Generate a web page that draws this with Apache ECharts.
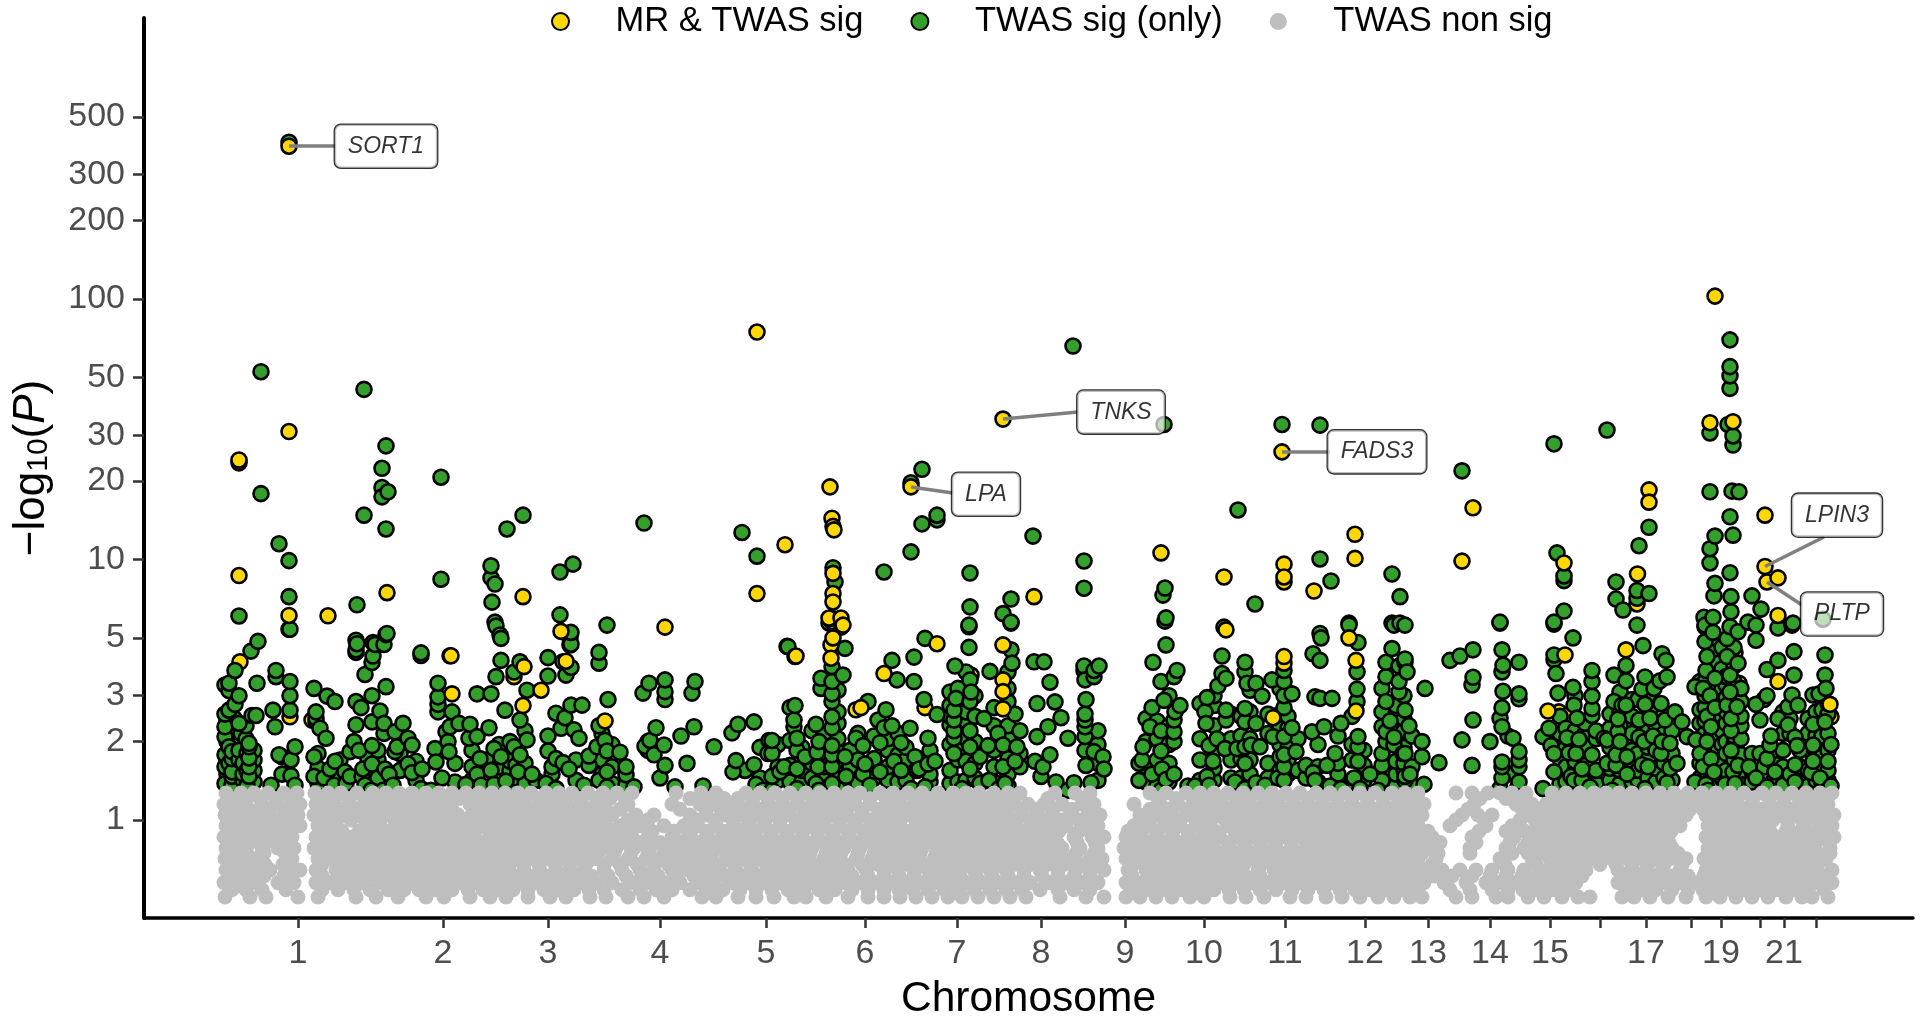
<!DOCTYPE html>
<html><head><meta charset="utf-8">
<script src="https://cdn.jsdelivr.net/npm/echarts@6/dist/echarts.min.js"></script>
<style>html,body{margin:0;padding:0;background:#fff}#c{width:1920px;height:1018px}</style>
</head><body><div id="c"></div>
<script>
const yTicks=[1,2,3,5,10,20,30,50,100,200,300,500];
const chromTickPos=[298,443,548,660,766,865,957,1041,1125,1204,1285,1365,1428,1490,1550,1600,1646,1691,1721,1760,1784,1816];
const chromTickLabels=['1','2','3','4','5','6','7','8','9','10','11','12','13','14','15','','17','','19','','21',''];

const grayTop=[226,241,254,268,284,297,315,328,341,357,373,386,399,412,426,439,452,466,479,492,505,518,531,546,559,572,588,603,617,632,676,701,716,746,760,775,790,806,820,834,848,860,880,893,908,922,938,953,966,979,994,1008,1020,1055,1075,1090,1150,1166,1186,1200,1214,1228,1243,1258,1272,1286,1300,1316,1330,1345,1360,1375,1392,1405,1418,1456,1472,1488,1500,1512,1526,1552,1566,1580,1594,1606,1619,1632,1646,1660,1674,1688,1702,1716,1730,1744,1762,1776,1792,1806,1820,1832];
const gray121=[232,247,260,276,290,322,335,349,365,379,393,405,419,432,445,459,473,486,499,512,525,539,552,566,580,596,610,625,690,708,724,738,753,768,783,798,813,827,841,855,870,886,900,915,930,945,960,973,987,1001,1014,1048,1082,1158,1176,1193,1207,1221,1236,1250,1265,1279,1293,1308,1323,1337,1352,1367,1383,1398,1412,1480,1506,1519,1559,1573,1587,1600,1613,1626,1639,1653,1667,1681,1695,1709,1723,1737,1753,1769,1784,1799,1813,1826];
const gray115=[224,236,262,276,292,300,316,334,350,364,378,392,406,420,434,446,470,484,498,512,525,540,552,566,582,600,628,672,700,712,730,752,768,782,797,812,826,840,854,870,890,900,914,928,942,958,972,986,1000,1014,1028,1044,1062,1082,1094,1134,1160,1178,1194,1208,1222,1236,1250,1264,1278,1294,1308,1322,1338,1352,1368,1384,1398,1412,1424,1474,1516,1532,1546,1560,1574,1588,1600,1612,1626,1640,1654,1668,1684,1696,1710,1724,1738,1752,1770,1784,1800,1814,1828];
const gray110=[230,249,269,284,322,342,357,371,385,399,413,427,440,452,477,491,505,519,533,547,560,574,590,606,620,680,706,721,737,745,760,775,790,805,819,833,847,862,880,895,907,921,935,950,965,979,993,1007,1021,1036,1053,1072,1088,1150,1168,1186,1201,1215,1229,1243,1257,1271,1286,1301,1315,1330,1345,1360,1376,1391,1405,1418,1468,1522,1538,1553,1567,1581,1594,1607,1620,1633,1647,1661,1676,1690,1703,1717,1731,1745,1761,1777,1792,1807,1821];
const gray105=[225,243,256,270,286,298,314,330,344,358,372,388,402,416,430,444,458,472,488,502,516,528,542,556,570,584,598,612,636,654,690,706,724,742,758,772,788,804,818,832,846,862,878,892,908,924,936,950,964,978,992,1006,1022,1038,1052,1070,1088,1100,1140,1156,1172,1188,1204,1218,1232,1246,1262,1276,1290,1304,1320,1334,1348,1364,1378,1394,1408,1422,1462,1478,1492,1528,1542,1556,1570,1584,1598,1616,1630,1644,1658,1672,1686,1706,1720,1734,1748,1766,1780,1794,1810,1824,1834];
const gray100=[232,248,262,278,292,322,337,351,365,380,395,409,423,437,451,465,480,495,509,522,535,549,563,577,591,605,628,648,697,715,733,750,765,780,796,811,825,839,854,870,885,900,916,930,943,957,971,985,999,1013,1030,1045,1061,1079,1094,1146,1164,1180,1196,1211,1225,1239,1254,1269,1283,1297,1312,1327,1341,1356,1371,1386,1401,1415,1456,1484,1520,1535,1549,1563,1577,1591,1607,1623,1637,1651,1665,1679,1713,1727,1741,1757,1773,1787,1802,1817,1829];
const gray095=[226,238,252,272,290,300,318,332,366,380,396,410,424,440,454,468,482,496,510,522,538,552,566,578,592,606,620,640,664,684,698,716,734,748,764,780,796,810,824,840,856,872,886,900,916,930,946,960,974,988,1002,1016,1032,1048,1066,1084,1098,1134,1150,1166,1180,1196,1210,1228,1242,1256,1272,1288,1302,1318,1330,1346,1360,1376,1390,1404,1418,1450,1486,1512,1538,1552,1566,1580,1594,1610,1624,1638,1652,1666,1680,1708,1722,1736,1752,1768,1788,1804,1820,1832];
const gray090=[232,246,265,282,325,342,359,373,388,403,417,432,447,461,475,489,503,516,530,545,559,572,585,599,613,630,652,674,691,708,725,741,756,772,788,803,817,832,848,864,879,893,908,923,938,953,967,981,995,1009,1025,1042,1059,1079,1095,1128,1142,1158,1173,1188,1203,1215,1235,1249,1264,1280,1295,1310,1324,1338,1352,1367,1381,1396,1411,1428,1479,1506,1525,1543,1557,1571,1585,1600,1615,1629,1643,1657,1671,1713,1727,1741,1755,1770,1786,1801,1816,1829];
const gray086=[224,240,258,274,292,316,334,352,368,384,400,414,428,442,458,474,490,504,518,532,546,560,574,590,604,618,632,648,672,688,706,722,738,754,770,786,802,818,834,850,866,880,896,912,926,940,956,970,986,1002,1018,1036,1052,1074,1092,1104,1126,1140,1156,1172,1188,1202,1220,1236,1252,1268,1284,1298,1314,1328,1342,1358,1372,1388,1402,1416,1432,1472,1514,1532,1548,1562,1576,1590,1606,1620,1634,1648,1662,1706,1720,1734,1748,1762,1778,1794,1808,1824,1834];
const gray082=[232,250,266,284,322,340,357,373,389,405,420,435,449,465,482,497,511,525,539,553,567,582,597,611,625,641,660,680,697,714,730,745,762,778,794,807,823,839,855,871,888,904,919,933,948,963,977,993,1010,1024,1041,1057,1077,1095,1132,1148,1164,1180,1195,1210,1228,1244,1260,1276,1291,1306,1321,1335,1350,1365,1380,1395,1409,1424,1440,1476,1510,1528,1544,1559,1573,1588,1603,1613,1627,1641,1655,1669,1713,1727,1741,1755,1770,1786,1801,1816,1829];
const gray078=[226,242,262,278,294,314,330,346,362,378,394,410,426,442,456,472,486,500,514,528,544,558,572,586,602,616,634,650,668,684,702,718,736,750,766,782,798,812,828,844,860,876,892,908,922,938,954,968,984,1000,1016,1030,1046,1062,1080,1098,1124,1138,1154,1168,1184,1198,1214,1230,1246,1262,1276,1292,1308,1324,1340,1354,1368,1384,1398,1414,1430,1470,1506,1524,1540,1556,1570,1586,1600,1618,1632,1646,1660,1672,1708,1722,1736,1750,1766,1782,1798,1814,1830];
const gray074=[232,247,264,285,322,340,354,372,387,403,419,434,447,462,478,493,507,521,537,551,565,581,598,614,631,648,664,680,696,712,731,747,763,779,795,810,826,841,858,874,889,905,920,936,951,965,980,996,1013,1027,1043,1059,1076,1094,1131,1146,1161,1176,1191,1206,1222,1238,1254,1269,1284,1300,1316,1332,1347,1361,1376,1392,1406,1422,1438,1470,1512,1528,1544,1559,1575,1590,1606,1622,1636,1650,1664,1678,1712,1726,1740,1755,1770,1786,1802,1818,1830];
const gray071=[225,238,256,292,318,332,348,366,382,396,412,428,440,454,470,486,500,516,530,548,562,576,594,612,628,646,660,676,692,708,726,744,760,776,792,808,824,838,856,872,886,900,918,934,948,962,976,992,1006,1022,1038,1056,1072,1090,1102,1126,1142,1158,1172,1188,1204,1218,1234,1250,1266,1282,1296,1312,1328,1342,1358,1372,1388,1404,1418,1436,1500,1532,1550,1564,1580,1594,1612,1628,1642,1656,1670,1686,1704,1718,1732,1746,1760,1776,1792,1808,1826];
const gray067=[232,248,265,283,322,340,358,374,390,406,422,436,450,464,480,495,510,524,539,555,570,586,604,620,637,654,668,684,700,716,734,750,766,782,798,814,830,845,862,878,893,908,924,940,954,968,982,998,1014,1030,1047,1064,1081,1098,1133,1150,1166,1181,1197,1212,1228,1244,1261,1277,1292,1308,1324,1340,1354,1369,1384,1399,1413,1432,1505,1536,1552,1568,1584,1600,1616,1632,1648,1664,1682,1712,1726,1740,1754,1770,1786,1802,1818];
const gray064=[226,242,258,270,290,300,316,336,352,368,384,400,416,432,448,462,476,492,508,524,540,556,570,584,604,622,640,654,672,688,704,720,736,752,770,786,802,818,832,848,866,884,898,914,928,942,958,974,990,1006,1024,1040,1058,1076,1090,1104,1128,1146,1162,1176,1192,1208,1224,1240,1258,1274,1288,1304,1320,1336,1350,1366,1380,1396,1410,1426,1442,1460,1476,1492,1508,1524,1540,1556,1572,1586,1618,1632,1646,1662,1680,1706,1720,1734,1748,1764,1780,1796,1812,1832];
const gray061=[232,248,264,284,322,340,357,374,390,406,421,437,453,468,484,499,514,530,546,562,576,591,608,626,642,658,676,694,710,726,742,758,774,790,806,820,836,852,868,884,899,914,930,946,960,976,992,1008,1024,1042,1058,1074,1090,1132,1150,1166,1182,1198,1214,1230,1245,1260,1276,1292,1308,1324,1340,1356,1370,1386,1402,1417,1434,1452,1472,1490,1506,1522,1537,1552,1566,1582,1624,1640,1656,1672,1688,1704,1718,1732,1746,1760,1776,1792,1808,1824];
const gray057=[224,240,254,278,294,316,330,346,362,380,396,412,426,444,460,476,490,506,520,536,552,566,582,596,612,632,648,664,680,698,714,732,748,764,780,796,812,826,844,860,876,892,906,920,936,952,966,982,998,1014,1030,1050,1066,1082,1098,1126,1142,1158,1174,1190,1206,1222,1236,1252,1268,1284,1300,1316,1332,1348,1362,1378,1394,1410,1424,1444,1466,1486,1500,1516,1530,1544,1560,1576,1618,1634,1648,1664,1680,1696,1710,1724,1738,1752,1768,1784,1800,1816,1832];
const gray054=[232,246,262,286,322,338,354,370,388,404,419,435,452,468,483,498,513,528,544,559,574,589,604,622,640,656,672,690,706,723,740,756,772,788,804,819,835,852,868,884,899,913,928,944,959,974,990,1006,1022,1040,1058,1074,1090,1133,1150,1166,1182,1198,1214,1229,1244,1260,1276,1292,1308,1324,1340,1355,1370,1386,1402,1417,1450,1470,1492,1508,1523,1537,1552,1568,1626,1642,1656,1672,1688,1703,1717,1731,1745,1760,1776,1792,1808,1824];
const gray051=[225,250,266,298,318,356,376,398,426,444,470,490,506,528,550,566,590,606,628,644,664,702,716,738,756,774,794,806,826,848,868,884,900,916,932,948,962,978,994,1010,1026,1060,1086,1104,1126,1140,1156,1172,1190,1204,1230,1246,1264,1290,1306,1326,1342,1360,1378,1394,1410,1422,1456,1472,1496,1508,1528,1544,1562,1578,1590,1622,1634,1650,1668,1686,1706,1720,1736,1752,1768,1786,1802,1812,1828];

const greenLowA=[[227,1.5,1.72,2.0,2.18,2.42],[234,1.42,1.55,1.97,2.18,2.46],[241,1.36,1.6,2.0,2.15],[246,1.4,1.75,2.05,2.3],[254,1.4,1.55,1.7,1.85],[282,1.5,1.75],[318,1.38,1.58,1.8],[340,1.45,1.7],[368,1.4,1.55,1.72],[378,1.45,1.7,1.85],[400,1.55,1.8,2.2],[416,1.42,1.68],[455,1.4,1.65],[472,1.42,1.6,1.85],[486,1.45,1.7],[499,1.42,1.6,1.95],[510,1.38,1.55,1.68,2.0],[516,1.45,1.62,1.9],[525,1.38,1.65,2.2],[536,1.42],[552,1.5,1.6],[576,1.42,1.7],[602,1.5,1.7,2.15],[612,1.38,1.6,1.95],[648,1.85,2.0],[660,1.45]];
const greenLowB=[[745,1.55],[760,1.45,1.9],[778,1.42,1.6,1.95],[790,1.4,1.62],[802,1.4,1.55,1.9],[812,1.45,1.65,2.2],[824,1.42,1.6,1.9,2.15],[838,1.36,1.5,1.7,1.85,2.05,2.35,2.6,3.15],[850,1.42,1.6,1.85],[858,1.38,1.7,2.15],[874,1.45,1.72,2.1],[888,1.42,1.6,1.85,2.05],[898,1.4,1.78,2.15],[906,1.42,1.7,1.9],[930,1.4,1.5,1.85],[950,1.38,1.55,1.95,2.32,2.5,2.75,3.1],[958,1.4,1.7,1.85,2.15,2.35,2.6,3.2],[966,1.42,1.68,2.05,2.4,2.6,3.7],[975,1.45,1.65,2.0,2.5,3.0],[980,1.38,1.75],[994,1.4,1.6,1.85,2.3,2.7],[1008,1.35,1.5,1.72,2.05,2.3,2.85,3.2,3.7],[1020,1.6,1.8,2.2]];
const greenLowC=[[1098,1.42,1.65,1.95,2.2],[1146,1.4,1.6,2.0,2.45],[1157,1.35,1.7,2.05,2.4],[1169,1.4,1.65,1.95,2.3,3.0],[1200,1.42,1.7,2.05,2.8],[1214,1.42,1.58,1.85,2.3,2.75,3.0],[1231,1.45,1.7,2.05,2.55],[1241,1.45,1.72,2.1,2.5],[1250,1.5,1.7,2.05,2.6,3.15],[1268,1.45,1.65,2.15,2.55],[1280,1.55,1.75,1.95,2.3,2.55,3.2],[1288,1.5,1.7,1.9,2.25,2.5],[1298,1.55,2.05],[1306,1.45,1.62],[1318,1.4,1.6,1.95],[1338,1.5,1.65,2.1],[1352,1.4,1.7,1.95,2.5],[1364,1.42,1.62,1.85],[1382,1.42,1.62,1.8,2.28,2.6,3.2],[1396,1.35,1.5,1.68,2.25,2.55,2.75],[1404,1.55,1.65,1.9,2.2,2.45,3.0],[1412,1.36,1.6,2.1],[1508,1.5,2.1]];
const greenLowD=[[1560,1.38,1.55,1.72,2.15,2.5],[1566,1.4,1.6,1.9,2.25],[1575,1.38,1.55,1.68,2.2,3.0],[1585,1.4,1.62,1.9,2.15,2.35],[1596,1.38,1.55,2.05,2.2],[1610,1.42,1.58,1.9,2.25,2.55],[1620,1.38,1.55,1.7,2.3,2.6,3.1],[1632,1.4,1.55,1.65,1.85,2.15,2.5,2.9],[1638,1.42,1.55,1.8,2.9],[1648,1.45,1.7,1.9,2.2,2.6,3.0],[1656,1.4,1.58,1.85,2.3,2.65],[1664,1.45,1.65,2.15,2.55],[1672,1.42,1.8,2.2],[1700,1.45,1.65,2.0,2.35,2.65,3.4],[1705,1.55,1.85,2.15,2.4,2.7,3.0,3.4],[1712,1.4,1.5,1.65,1.9,2.15,2.45,3.2,3.7,4.4,5.0],[1718,1.38,1.6,1.85,2.1,2.3,2.55,2.9,3.3,4.0],[1722,1.45,1.7,1.95,2.2,2.5,2.8,3.2,3.8,4.6],[1726,1.35,1.55,1.8,2.0,2.35,2.6,2.95,3.3,3.55],[1734,1.45,1.7,1.95,2.1,2.35,2.6,2.9,3.4,3.9,4.6],[1741,1.42,1.55,1.78,2.05,2.3,2.5,2.85,3.2],[1752,1.4,1.55,1.8],[1764,1.45,1.6,2.9],[1774,1.42,1.65,1.85],[1783,1.36,1.6,1.85,2.15,2.6],[1790,1.5,2.15,2.45],[1800,1.4,1.6,1.85],[1808,1.35,1.55,2.15,2.45],[1816,1.42,1.6,1.85,2.1,2.6],[1822,1.38,1.55,1.75,2.1,2.65],[1828,1.42,1.55,1.85,2.15,2.55,2.8]];
const greenChr1=[[225,1.38,1.6,1.78,2.09,2.28,2.55,3.3],[229,1.65,1.91,2.64,3.14,3.35],[232,1.36,1.47,1.53,1.72,1.83],[235,2.78,3.75],[239,1.7,1.85,2.35,3.0,6.07,23.5],[243,1.42,1.5,1.66],[247,1.35,1.55,1.8],[249,1.47,1.6,1.73,1.91,1.97],[251,4.45],[252,2.52],[256,2.52],[257,3.35],[258,4.85],[261,52.6,17.9],[271,1.36],[273,2.64],[275,2.28],[276,3.55,3.75],[279,1.78,11.5],[289,400,9.9,7.2,5.4],[290,2.64,3.0,3.4,5.4],[291,1.48,1.7],[295,1.36,1.91],[314,1.47,1.75,3.2],[316,2.38,2.46,2.6],[320,2.25],[324,1.45],[326,2.06],[327,2.99],[330,1.57],[334,1.36],[335,1.68,2.85],[345,1.53],[346,1.38],[350,1.47,1.83],[354,2.0],[356,2.32,2.85,4.4,4.9,4.5],[357,4.75,6.7],[359,1.85],[361,2.7],[362,1.47],[363,1.57],[364,14.8,45],[365,1.36,3.62],[371,1.3],[372,1.64,1.93,2.38,3.0,4.02],[373,4.8,4.26],[375,4.72],[380,2.62],[382,18.9,17.4,22.4],[383,1.3],[384,2.15,2.35,4.72],[385,1.57],[386,3.25,5.15,13.1,27.3],[387,5.2],[388,18.2],[389,1.5],[393,1.36],[395,1.83,2.18],[397,1.91],[403,2.35],[408,1.64,2.06],[412,1.52,1.94],[421,1.32,4.28,4.38],[422,1.57]];
const greenChr2=[[431,1.3],[435,1.88],[436,1.67],[438,2.6,2.78,2.97,3.35],[441,8.4,20.7],[442,1.45],[446,2.18],[448,2.0],[449,1.83],[450,2.28],[452,2.6],[459,2.35],[466,1.37],[469,2.06],[470,2.33],[477,1.5,2.09,3.05],[480,1.72],[481,1.36],[489,2.26],[491,1.55,3.05,8.5,9.46],[492,6.86],[494,1.37,1.88],[495,5.75,8.05],[496,3.55,5.55],[500,5.13],[501,1.75,4.1,4.98],[505,2.64],[506,1.41],[507,13.1],[514,1.91,3.7],[518,1.53],[520,1.78,2.42,4.05],[523,14.8],[527,2.03,3.15],[532,1.5]];
const greenChr3=[[546,1.38],[548,1.84,2.1,3.57,4.2],[556,1.32,1.72,2.57],[560,6.13,8.95],[561,2.25],[563,1.66],[565,2.47],[566,3.6],[569,1.57],[570,4.7,5.0],[571,2.76,3.85,4.73,5.25],[573,9.6],[574,2.22],[579,2.06],[582,2.76],[584,1.36],[589,1.62,1.76],[597,1.91],[599,1.42,2.3,4.0,4.4],[605,2.02],[607,1.34,1.53,1.84,5.6],[608,2.9],[620,1.82],[626,1.36,1.49,1.6],[634,1.34]];
const greenChr4=[[643,3.07],[644,13.8],[645,1.92],[649,3.35],[650,2.02],[654,1.78],[656,2.26],[664,1.94],[665,1.62,2.9,3.11,3.45],[675,1.34],[681,2.1],[687,1.65],[692,3.07],[694,2.28],[695,3.4],[703,1.35],[714,1.91]];
const greenChr5=[[732,2.16],[733,1.53],[736,1.69],[738,2.33],[742,12.7],[754,1.63,2.38],[756,1.37],[757,10.3],[763,1.3],[768,1.8],[769,2.02],[772,1.3,1.47,1.8,2.02],[780,1.53],[784,1.6],[787,4.64],[788,4.63],[790,2.02,2.7],[794,2.28,2.42],[795,2.75],[797,1.32,1.57,1.85,2.06],[805,1.75],[816,1.38,2.33],[817,1.82],[818,1.6],[819,1.3,2.0],[821,3.2,3.5]];
const greenChr6=[[829,5.7],[832,1.38,1.6,1.78,1.93,2.26,2.49,2.85,3.05,3.4,3.88,5.77,5.95],[833,9.3],[835,8.2],[843,3.6],[845,1.75,4.56],[846,1.47],[856,2.06],[863,1.5,1.93],[865,1.64],[868,2.85],[870,1.36],[878,2.42],[880,1.53,1.98],[884,2.26,8.96],[886,2.65],[892,2.3,4.1],[894,1.68],[897,3.45],[901,1.55,1.98],[910,2.25],[911,1.32,10.7,19.7],[914,3.4,4.22],[915,1.75],[917,1.55],[919,1.57],[922,13.7,22.2],[924,2.9],[925,1.34,4.98],[928,1.64,2.06],[935,1.68],[937,2.54,14.2,14.8]];
const greenChr7=[[954,1.8,2.06,2.2,2.42,2.64],[955,3.9],[956,2.93],[962,1.32],[969,4.6,5.52,5.6],[970,1.57,1.91,2.2,2.85,3.45,6.58,8.87],[971,3.1],[984,2.45],[988,1.93],[989,1.42],[990,3.72],[998,2.15],[999,1.32],[1003,1.6,1.94,6.2],[1005,1.38],[1011,4.5,5.7,5.75,7.05],[1012,4.0],[1015,1.68,2.55],[1017,1.91]];
const greenChr8=[[1033,12.3],[1034,4.05],[1035,1.68],[1037,2.09,2.8],[1041,1.47],[1043,1.6],[1044,4.05],[1048,2.28],[1050,1.78,3.38],[1055,2.84],[1056,1.4],[1061,2.47],[1068,1.3,2.06],[1073,66],[1074,1.39],[1084,3.75,3.9,7.76,9.87],[1085,1.85,2.09,2.28,2.42,2.55,3.45],[1086,1.62,2.9],[1091,1.39],[1094,1.83,3.55,3.75],[1099,3.9],[1103,1.75],[1104,1.57]];
const greenChr9=[[1139,1.42,1.65],[1142,1.7],[1143,1.91],[1150,2.28],[1152,1.5,2.7],[1153,4.03],[1161,1.3,1.84,2.2,3.4],[1162,1.57],[1163,7.3],[1164,2.88,33],[1165,5.8,7.77],[1166,1.43,4.7,5.97],[1174,1.5,2.0,2.18,2.42,3.55],[1175,2.6],[1177,3.75],[1180,2.75]];
const greenChr10=[[1188,1.35],[1195,1.35],[1205,2.6],[1206,2.35],[1207,1.47,2.95],[1209,1.36,1.93],[1213,1.68],[1217,2.05],[1218,3.27],[1222,3.65,4.26],[1224,5.5],[1225,1.88],[1226,2.42,2.64,3.5],[1235,1.4],[1237,1.88],[1238,15.5],[1245,1.32,1.65,1.91,2.38,2.68,3.7,4.03],[1247,3.35],[1251,1.94],[1255,6.75],[1256,1.39,2.35,3.35],[1260,1.91],[1262,2.99],[1265,1.36],[1272,3.45],[1273,2.09]];
const greenChr11=[[1278,1.45],[1282,33],[1284,1.42,1.6,1.78,2.09,2.7,3.0,3.4,3.75],[1292,2.26,3.05],[1296,1.83],[1312,2.18],[1313,1.52,4.35],[1315,1.42,2.97],[1320,2.93,4.1,5.2,10.05,32.8],[1321,5.0],[1324,2.28],[1327,1.62],[1330,1.35],[1331,8.27],[1332,2.93],[1335,1.8],[1341,1.32,2.35],[1349,5.7,5.6],[1354,1.45],[1357,2.85,3.18,3.7],[1358,1.68,1.91,2.09,4.8],[1360,1.32]];
const greenChr12=[[1370,1.5],[1378,1.3],[1386,2.0,2.18,2.85,3.55,4.03],[1390,2.4],[1392,4.55,5.7,8.8],[1394,1.94,2.08,5.6],[1399,3.1,3.4,3.9],[1400,5.7,7.2],[1403,1.8],[1405,1.42,1.47,1.8,2.64,4.03,4.15,5.6],[1407,3.7],[1409,2.3],[1410,1.5],[1422,1.75,2.0],[1424,1.37],[1425,3.2],[1439,1.66]];
const greenChr13=[[1450,4.1],[1460,4.26],[1462,2.03,21.9],[1472,1.62,3.3],[1473,2.42,3.53,4.5],[1490,2.0],[1500,1.32,2.46,5.7,5.75],[1502,1.45,1.6,1.67,2.28,2.7,3.7,4.5],[1503,3.12,3.93],[1513,2.06],[1518,1.34],[1519,1.4,1.6,1.7,1.83,2.92,3.05,4.03]];
const greenChr15=[[1543,1.32,2.09],[1549,2.25],[1551,1.93],[1554,1.53,1.8,4.12,4.3,5.65,5.75,27.8],[1556,3.65],[1557,10.6],[1558,3.07],[1564,6.34,8.3,8.65],[1567,2.07],[1569,1.81],[1571,1.47],[1573,3.23,5.0],[1574,1.42,2.76],[1576,1.8],[1577,2.46],[1579,2.04],[1582,1.42,1.57],[1590,1.34],[1592,1.78,2.52,2.68,2.99,3.4,3.75]];
const greenChr16=[[1604,2.06],[1607,1.65,2.03,31.4],[1612,1.3],[1614,2.85,3.6],[1616,1.62,1.78,7.05,8.2],[1618,2.18,2.44],[1620,2.0],[1622,2.76],[1623,6.4],[1626,2.76,3.42,3.92],[1627,1.5,1.75],[1637,5.6,7.1,7.6],[1639,2.08,2.42,11.3]];
const greenChr17=[[1642,1.63,3.18],[1643,4.67],[1644,2.0],[1645,1.32,2.78,3.54],[1648,1.6],[1649,7.4,13.3],[1650,2.46],[1653,2.1],[1654,3.2],[1660,3.42],[1661,1.8,2.8],[1662,2.0,4.35],[1665,2.42],[1666,4.1],[1667,1.39,3.54],[1670,1.58,1.97],[1675,2.6],[1677,1.65],[1682,2.38]];
const greenChr19=[[1687,2.09],[1695,1.4,3.25],[1696,2.03],[1700,1.8],[1703,1.6,3.2],[1704,6.0],[1705,4.84,5.52,5.6],[1706,1.37,3.75],[1707,2.0,2.5,4.24],[1708,1.3],[1710,3.0,9.7,11,18.2,30.6],[1711,1.72,2.28],[1713,5.25,6.0],[1714,1.53,7.25],[1715,2.7,3.5,8.1,12.3],[1725,1.37],[1727,2.76,4.24,4.97],[1728,33],[1730,3.1,3.6,5.52,8.9,14.6,45.4,50.7,55,69.7],[1731,2.2,2.45,1.85,6.3,7.2],[1732,18.3],[1733,1.53,12.4,27.5,29.8],[1735,1.38],[1737,2.72],[1738,1.62,4.0,5.28],[1739,18.2],[1748,5.75],[1749,1.6],[1752,7.25],[1756,1.45,2.78,4.9,5.6],[1760,1.8,2.42],[1761,6.45]];
const greenChr21=[[1767,1.34,1.72,3.0,3.78],[1770,1.94],[1771,2.1],[1775,1.53],[1778,2.45,4.1,5.46],[1788,2.32,2.72],[1792,3.02,5.6],[1793,5.7],[1794,3.6,4.43],[1795,1.4,1.63,2.08],[1797,1.93],[1798,2.76],[1811,1.52],[1813,1.68,1.94,2.33,3.02],[1819,3.05],[1820,1.45],[1823,5.9],[1825,2.38,3.6,4.3],[1826,3.2],[1828,1.68],[1831,1.35,1.95]];

const yellowUnder=[[240,4.05],[290,2.49],[312,2.42],[514,3.55],[841,5.5],[833,3.6],[856,2.65],[925,2.7],[971,3.6],[1559,2.6],[1567,2.52],[1612,2.58],[1284,8.2],[1637,6.75],[1735,4.4],[1739,3.35],[1831,2.49]];
const yellowTop=[[239,24.1],[239,8.68],[289,386],[289,31],[289,6.1],[328,6.08],[387,7.46],[450,4.27],[452,3.05],[451,4.27],[523,7.2],[524,3.88],[523,2.75],[541,3.15],[561,5.3],[563,4.05],[566,4.07],[605,2.4],[665,5.5],[757,74.7],[757,7.4],[785,11.4],[795,4.24],[796,4.26],[831,4.7],[831,4.18],[833,5.0],[830,19],[832,14.4],[833,13.4],[834,13],[833,8.85],[833,7.4],[833,6.87],[829,5.96],[841,5.96],[843,5.6],[861,2.7],[884,3.65],[911,19],[937,4.75],[1003,34.6],[1003,4.7],[1003,3.45],[1003,3.11],[1003,2.67],[1034,7.2],[1161,10.6],[1224,8.57],[1226,5.37],[1273,2.47],[1282,25.9],[1284,9.6],[1284,8.57],[1284,4.0],[1284,4.24],[1314,7.57],[1349,5.0],[1355,12.5],[1355,10.1],[1356,4.1],[1356,2.62],[1462,9.86],[1473,15.8],[1548,2.62],[1564,9.7],[1565,4.3],[1626,4.5],[1637.5,8.8],[1649,18.5],[1649,16.6],[1710,33.5],[1715,102.6],[1733,33.8],[1765,14.8],[1765,9.4],[1767,8.2],[1778,8.5],[1778,6.1],[1778,3.4],[1830,2.78]];

const geneNames=['SORT1','TNKS','FADS3','LPA','LPIN3','PLTP'];
const genePos=[289,1003,1282,911,1765,1767];
const geneValue=[386,34.6,25.9,19,9.4,8.2];
const boxPos=[386,1121,1377,986,1837,1842];
const boxValue=[386,36.8,25.9,17.8,14.8,6.18];
const linkPos=[336,1078,1330,953,1824,1802];
const linkValue=[386,36.8,25.9,18,12.2,6.69];

const expand=g=>g.flatMap(c=>c.slice(1).map(v=>[c[0],v]));
const greenData=expand([...greenLowA,...greenLowB,...greenLowC,...greenLowD,...greenChr1,...greenChr2,...greenChr3,...greenChr4,...greenChr5,...greenChr6,...greenChr7,...greenChr8,...greenChr9,...greenChr10,...greenChr11,...greenChr12,...greenChr13,...greenChr15,...greenChr16,...greenChr17,...greenChr19,...greenChr21]);
const grayRows=[[1.27,grayTop],[1.21,gray121],[1.15,gray115],[1.1,gray110],[1.045,gray105],[1.0,gray100],[0.95,gray095],[0.905,gray090],[0.86,gray086],[0.82,gray082],[0.78,gray078],[0.745,gray074],[0.71,gray071],[0.675,gray067],[0.643,gray064],[0.61,gray061],[0.575,gray057],[0.54,gray054],[0.506,gray051]];
const grayData=grayRows.flatMap(([v,xs])=>xs.map(x=>[x,v]));

const YEL='#FFD700',GRN='#33A02C',GRY='#BEBEBE';
const dot=(color,z)=>({type:'scatter',symbol:'circle',symbolSize:15,silent:true,progressive:0,z,itemStyle:{color,borderColor:'#000',borderWidth:2.6,opacity:1}});
const chart=echarts.init(document.getElementById('c'),null,{renderer:'canvas'});
chart.setOption({
 animation:false,backgroundColor:'#fff',
 textStyle:{fontFamily:'"Liberation Sans",Arial,sans-serif'},
 grid:{left:144,right:7,top:18,bottom:100,containLabel:false,outerBoundsMode:'none'},
 legend:{data:['MR & TWAS sig','TWAS sig (only)','TWAS non sig'],left:546,top:-1,itemWidth:100,itemHeight:17,itemGap:47,selectedMode:false,
  textStyle:{fontSize:34.5,color:'#000',fontFamily:'"Liberation Sans"'}},
 xAxis:{type:'value',min:144,max:1913,splitLine:{show:false},
  name:'Chromosome',nameLocation:'middle',nameGap:60,nameTextStyle:{fontSize:42.5,color:'#000'},
  axisLine:{onZero:false,lineStyle:{color:'#000',width:3.5}},
  axisTick:{customValues:chromTickPos,length:10,lineStyle:{color:'#333',width:2.5}},
  axisLabel:{customValues:chromTickPos,margin:19,fontSize:34,color:'#4D4D4D',formatter:v=>chromTickLabels[chromTickPos.indexOf(v)]||''}},
 yAxis:{type:'log',logBase:10,min:0.4205,max:1199,splitLine:{show:false},minorTick:{show:false},
  name:'{n|−log}{s|10}{n|(}{i|P}{n|)}',nameLocation:'middle',nameRotate:90,nameGap:90,
  nameTextStyle:{rich:{n:{fontSize:44,color:'#000',fontFamily:'"Liberation Sans"'},i:{fontSize:44,fontStyle:'italic',color:'#000',fontFamily:'"Liberation Sans"'},s:{fontSize:30,color:'#000',padding:[14,0,0,0],fontFamily:'"Liberation Sans"'}}},
  axisLine:{onZero:false,lineStyle:{color:'#000',width:4}},
  axisTick:{customValues:yTicks,length:11,lineStyle:{color:'#333',width:2.5}},
  axisLabel:{customValues:yTicks,margin:19,fontSize:34,color:'#4D4D4D',formatter:v=>String(Math.round(v))}},
 series:[
  {...dot(YEL,2),name:'MR & TWAS sig',data:yellowUnder},
  {...dot(GRN,3),name:'TWAS sig (only)',data:greenData},
  {type:'scatter',name:'TWAS non sig',symbol:'circle',symbolSize:15,silent:true,progressive:0,z:4,itemStyle:{color:GRY,opacity:1},data:grayData},
  {...dot(YEL,5),name:'MR & TWAS sig',data:yellowTop},
  {type:'lines',coordinateSystem:'cartesian2d',silent:true,z:6,lineStyle:{color:'#7f7f7f',width:3.5,opacity:1,curveness:0},
   data:geneNames.map((n,i)=>({coords:[[genePos[i],geneValue[i]],[linkPos[i],linkValue[i]]]}))},
  {type:'scatter',silent:true,z:7,symbolSize:0,
   label:{show:true,position:'inside',formatter:p=>p.name,fontSize:23,fontStyle:'italic',color:'#000',fontFamily:'"Liberation Sans"',
     backgroundColor:'rgba(255,255,255,0.85)',borderColor:'#000',borderWidth:1.3,borderRadius:6,padding:[10,13]},
   data:geneNames.map((n,i)=>({name:n,value:[boxPos[i],boxValue[i]]}))}
 ]
});
</script></body></html>
